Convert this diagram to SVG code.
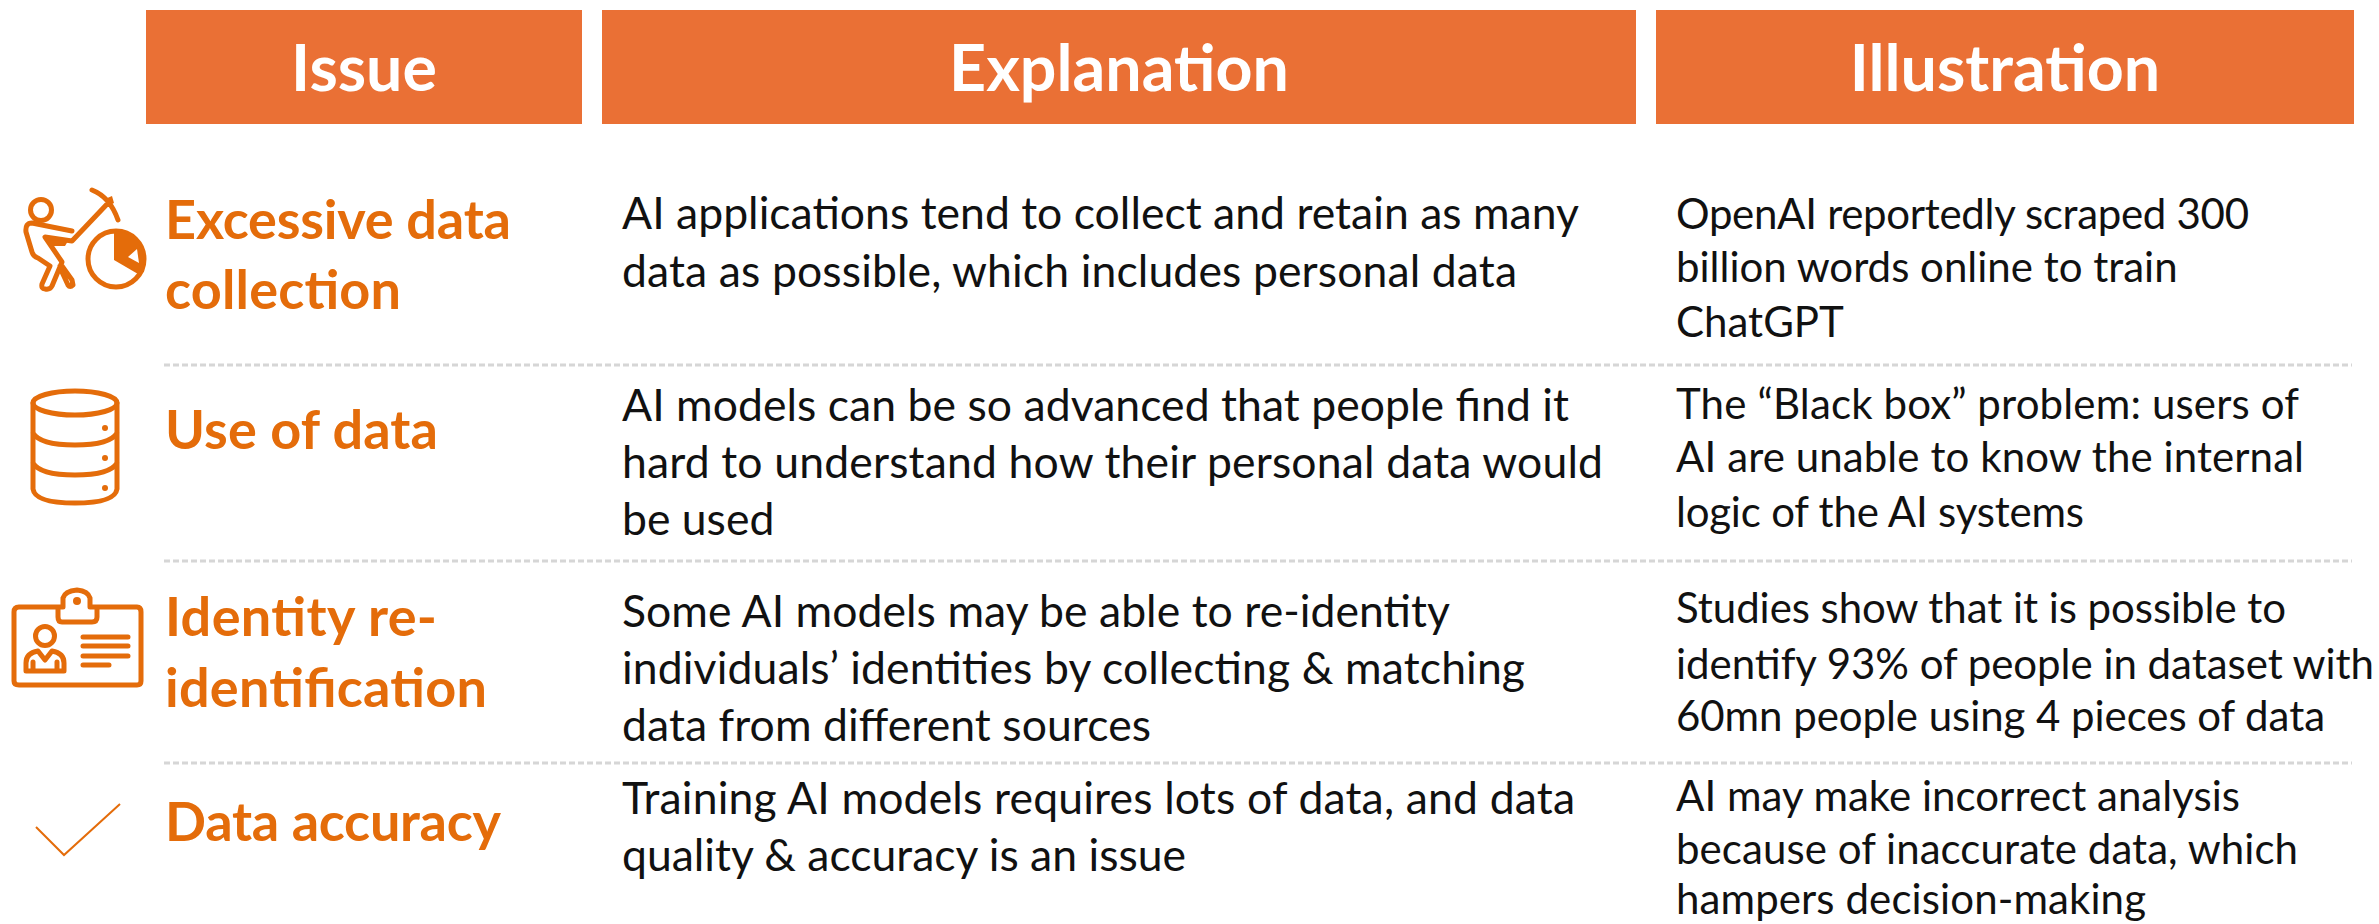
<svg xmlns="http://www.w3.org/2000/svg" width="2379" height="924" viewBox="0 0 2379 924">
<style>
.h{fill:#EA7035}
.ht{font:700 64.500px Lato,"Liberation Sans",sans-serif;fill:#fff;text-anchor:middle}
.i{font:700 54px Lato,"Liberation Sans",sans-serif;fill:#E46C0A}
.b{font:400 44.500px Lato,"Liberation Sans",sans-serif;fill:#111}
.c{font:400 42px Lato,"Liberation Sans",sans-serif;fill:#111}
.d{stroke:#d6d6d6;stroke-width:3;stroke-dasharray:6 3;fill:none}
.s{fill:none;stroke:#E46C0A;stroke-width:5;stroke-linecap:round;stroke-linejoin:round}
.f{fill:#E46C0A}
</style>
<rect fill="#fff" width="2379" height="924"/>
<g id="header-issue"><rect class="h" x="146" y="10" width="436" height="114"/><text class="ht" x="364" y="91">Issue</text></g>
<g id="header-explanation"><rect class="h" x="602" y="10" width="1034" height="114"/><text class="ht" x="1119" y="91">Explanation</text></g>
<g id="header-illustration"><rect class="h" x="1656" y="10" width="698" height="114"/><text class="ht" x="2005" y="91">Illustration</text></g>
<g id="dividers"><path class="d" d="M164 365H2352M164 561H2352M164 763H2352"/></g>
<g id="icon-mining">
<circle class="s" cx="41" cy="210" r="10.500"/>
<path class="s" d="M72 231L32 223Q25 223 26 232L32 252Q33 256 38 258L50 266L42 284Q41 289 45 289Q50 290 52 286L62 262L45 237L72 241L110 201M92 190Q110 197 118 220M60 266L62 272L68 285Q70 288 73 285L72 280L62 266"/>
<path class="f" d="M48 240L68 241L65 246L50 246ZM105 199L112 196L114 203L108 206Z"/>
<circle class="s" cx="116" cy="259" r="28"/>
<path class="f" d="M114 231Q146 233 144 272L138 274L114 260Z"/>
<path fill="#fff" d="M128 257L137 249L139 263Z"/>
</g>
<g id="icon-database">
<ellipse class="s" cx="75" cy="403" rx="42" ry="12"/>
<path class="s" d="M33 403V489Q35 503 75 503Q115 503 117 489V403M33 433Q40 445 75 445Q110 445 117 433M33 463Q40 475 75 475Q110 475 117 463"/>
<circle class="f" cx="105" cy="428" r="3"/><circle class="f" cx="105" cy="458" r="3"/><circle class="f" cx="105" cy="488" r="3"/>
</g>
<g id="icon-badge">
<path class="s" d="M62 607H19Q14 607 14 612V681Q14 685 19 685H137Q141 685 141 681V612Q141 607 137 607H90V598Q88 591 77 590Q65 591 63 598V607H58V617Q58 622 62 622H92Q97 622 97 617V607H90"/>
<circle class="f" cx="77" cy="601" r="4"/>
<circle class="s" cx="45" cy="636" r="9.500"/>
<path class="s" d="M26 671V663Q26 653 38 651L45 660L52 651Q64 653 64 663V671ZM33 662V669M57 662V669M83 637H128M83 646H128M83 656H128M83 665H109"/>
</g>
<g id="icon-check"><path fill="none" stroke="#E46C0A" stroke-width="2" d="M36 827L64 855L120 804"/></g>
<g id="row-1">
<text class="i" x="165" y="239" textLength="346">Excessive data</text>
<text class="i" x="165" y="309" textLength="236">collection</text>
<text class="b" x="622" y="229" textLength="957">AI applications tend to collect and retain as many</text>
<text class="b" x="622" y="287" textLength="895">data as possible, which includes personal data</text>
<text class="c" x="1676" y="229" textLength="573">OpenAI reportedly scraped 300</text>
<text class="c" x="1676" y="282">billion words online to train</text>
<text class="c" x="1676" y="337">ChatGPT</text>
</g>
<g id="row-2">
<text class="i" x="165" y="449" textLength="273">Use of data</text>
<text class="b" x="622" y="421" textLength="947">AI models can be so advanced that people find it</text>
<text class="b" x="622" y="478" textLength="981">hard to understand how their personal data would</text>
<text class="b" x="622" y="535">be used</text>
<text class="c" x="1676" y="419" textLength="623">The “Black box” problem: users of</text>
<text class="c" x="1676" y="472" textLength="628">AI are unable to know the internal</text>
<text class="c" x="1676" y="527" textLength="408">logic of the AI systems</text>
</g>
<g id="row-3">
<text class="i" x="165" y="636" textLength="272">Identity re-</text>
<text class="i" x="165" y="707" textLength="322">identification</text>
<text class="b" x="622" y="627" textLength="828">Some AI models may be able to re-identity</text>
<text class="b" x="622" y="684" textLength="903">individuals’ identities by collecting &amp; matching</text>
<text class="b" x="622" y="741" textLength="529">data from different sources</text>
<text class="c" x="1676" y="623" textLength="610">Studies show that it is possible to</text>
<text class="c" x="1676" y="679" textLength="698">identify 93% of people in dataset with</text>
<text class="c" x="1676" y="731" textLength="649">60mn people using 4 pieces of data</text>
</g>
<g id="row-4">
<text class="i" x="165" y="841" textLength="336">Data accuracy</text>
<text class="b" x="622" y="814" textLength="953">Training AI models requires lots of data, and data</text>
<text class="b" x="622" y="871" textLength="564">quality &amp; accuracy is an issue</text>
<text class="c" x="1676" y="811" textLength="564">AI may make incorrect analysis</text>
<text class="c" x="1676" y="864" textLength="622">because of inaccurate data, which</text>
<text class="c" x="1676" y="914" textLength="470">hampers decision-making</text>
</g>
</svg>
